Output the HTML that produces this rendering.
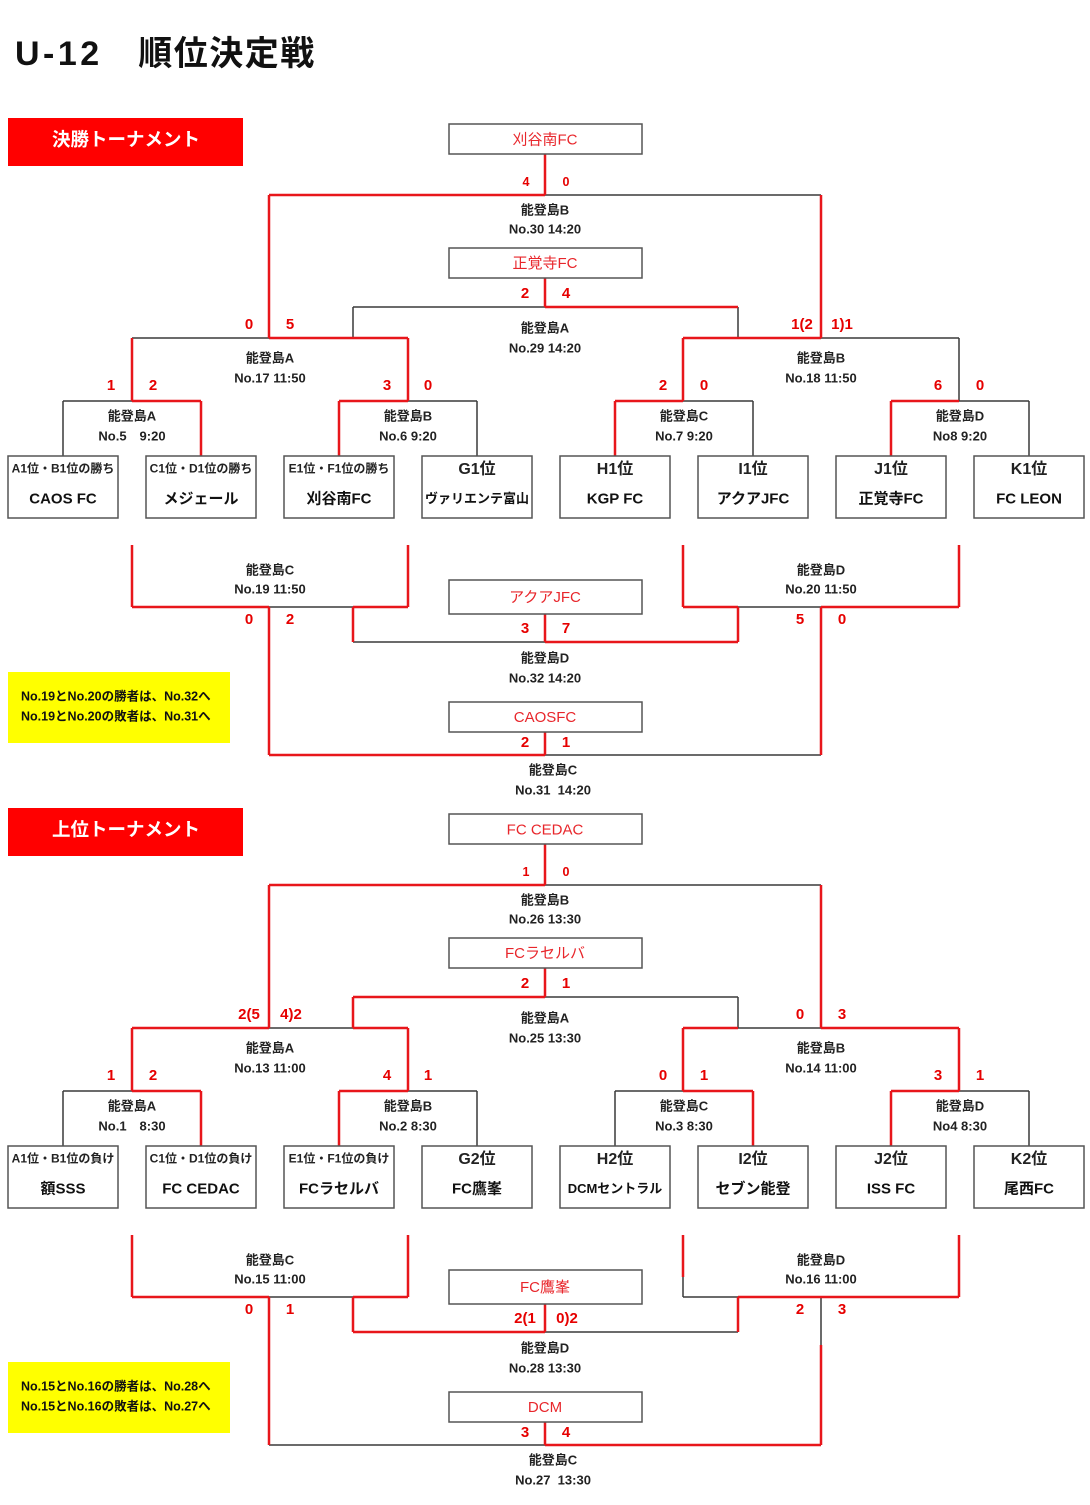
<!DOCTYPE html>
<html><head><meta charset="utf-8">
<style>
html,body{margin:0;padding:0;background:#fff;}
svg{display:block;}
text{font-family:"Liberation Sans","Noto Sans CJK JP",sans-serif;}
.k{stroke:#3a3a3a;stroke-width:1.5;fill:none;}
.r{stroke:#e8161b;stroke-width:2.5;fill:none;}
.bx{fill:#fff;stroke:#555;stroke-width:1.5;}
.lb{font-size:13px;font-weight:bold;fill:#222;text-anchor:middle;}
.sc{font-size:15px;font-weight:bold;fill:#e60000;text-anchor:middle;}
.ss{font-size:12.5px;font-weight:bold;fill:#e60000;text-anchor:middle;}
.wn{font-size:15px;fill:#e8262b;text-anchor:middle;}
.t1{font-size:12px;font-weight:bold;fill:#222;text-anchor:middle;}
.t1b{font-size:16px;font-weight:bold;fill:#222;text-anchor:middle;}
.t2{font-size:15px;font-weight:bold;fill:#111;text-anchor:middle;}
.t2s{font-size:13px;font-weight:bold;fill:#111;text-anchor:middle;}
.hd{font-size:18.5px;font-weight:bold;fill:#fff;text-anchor:middle;}
.ye{font-size:12.5px;font-weight:bold;fill:#111;}
</style></head>
<body>
<svg width="1090" height="1505" viewBox="0 0 1090 1505" xmlns="http://www.w3.org/2000/svg">
<text x="15" y="65" style="font-size:34px;font-weight:bold;fill:#111;"><tspan style="letter-spacing:3.5px">U-12</tspan><tspan style="letter-spacing:1.5px">　順位決定戦</tspan></text>

<!-- ============ SECTION 1 ============ -->
<g>
<rect x="8" y="118" width="235" height="48" fill="#ff0000"/>
<text class="hd" x="126" y="146">決勝トーナメント</text>

<path class="k" d="M545 195H821 M353 307H545 M353 307V338 M738 307V338 M132 338H269 M821 338H959 M959 338V401 M63 401H132 M408 401H477 M683 401H753 M959 401H1029 M63 401V456 M477 401V456 M753 401V456 M1029 401V456 M269 607H353 M738 607H821 M353 642H545 M545 755H821"/>
<path class="r" d="M545 154V195 M269 195H545 M269 195V338 M821 195V338 M545 278V307 M545 307H738 M269 338H408 M683 338H821 M132 338V401 M408 338V401 M683 338V401 M132 401H201 M339 401H408 M615 401H683 M891 401H959 M201 401V456 M339 401V456 M615 401V456 M891 401V456 M132 545V607 M408 545V607 M683 545V607 M959 545V607 M132 607H269 M353 607H408 M683 607H738 M821 607H959 M269 607V755 M821 607V755 M353 607V642 M738 607V642 M545 642H738 M545 614V642 M545 732V755 M269 755H545"/>

<rect class="bx" x="449" y="124" width="193" height="30"/>
<text class="wn" x="545" y="144.5">刈谷南FC</text>
<rect class="bx" x="449" y="248" width="193" height="30"/>
<text class="wn" x="545" y="268">正覚寺FC</text>
<rect class="bx" x="449" y="580" width="193" height="34"/>
<text class="wn" x="545" y="602">アクアJFC</text>
<rect class="bx" x="449" y="702" width="193" height="30"/>
<text class="wn" x="545" y="722">CAOSFC</text>

<text class="ss" x="526" y="186">4</text><text class="ss" x="566" y="186">0</text>
<text class="sc" x="525" y="298">2</text><text class="sc" x="566" y="298">4</text>
<text class="sc" x="249" y="329">0</text><text class="sc" x="290" y="329">5</text>
<text class="sc" x="802" y="329">1(2</text><text class="sc" x="842" y="329">1)1</text>
<text class="sc" x="111" y="390">1</text><text class="sc" x="153" y="390">2</text>
<text class="sc" x="387" y="390">3</text><text class="sc" x="428" y="390">0</text>
<text class="sc" x="663" y="390">2</text><text class="sc" x="704" y="390">0</text>
<text class="sc" x="938" y="390">6</text><text class="sc" x="980" y="390">0</text>
<text class="sc" x="249" y="624">0</text><text class="sc" x="290" y="624">2</text>
<text class="sc" x="800" y="624">5</text><text class="sc" x="842" y="624">0</text>
<text class="sc" x="525" y="633">3</text><text class="sc" x="566" y="633">7</text>
<text class="sc" x="525" y="747">2</text><text class="sc" x="566" y="747">1</text>

<text class="lb" x="545" y="214.5">能登島B</text><text class="lb" x="545" y="233.5">No.30 14:20</text>
<text class="lb" x="545" y="332.5">能登島A</text><text class="lb" x="545" y="352.5">No.29 14:20</text>
<text class="lb" x="270" y="362.5">能登島A</text><text class="lb" x="270" y="382.5">No.17 11:50</text>
<text class="lb" x="821" y="362.5">能登島B</text><text class="lb" x="821" y="382.5">No.18 11:50</text>
<text class="lb" x="132" y="420.5">能登島A</text><text class="lb" x="132" y="440.5">No.5　9:20</text>
<text class="lb" x="408" y="420.5">能登島B</text><text class="lb" x="408" y="440.5">No.6 9:20</text>
<text class="lb" x="684" y="420.5">能登島C</text><text class="lb" x="684" y="440.5">No.7 9:20</text>
<text class="lb" x="960" y="420.5">能登島D</text><text class="lb" x="960" y="440.5">No8 9:20</text>
<text class="lb" x="270" y="574.5">能登島C</text><text class="lb" x="270" y="593.5">No.19 11:50</text>
<text class="lb" x="821" y="574.5">能登島D</text><text class="lb" x="821" y="593.5">No.20 11:50</text>
<text class="lb" x="545" y="662.5">能登島D</text><text class="lb" x="545" y="682.5">No.32 14:20</text>
<text class="lb" x="553" y="774.5">能登島C</text><text class="lb" x="553" y="794.5">No.31&#160;&#160;14:20</text>

<rect class="bx" x="8" y="456" width="110" height="62"/>
<rect class="bx" x="146" y="456" width="110" height="62"/>
<rect class="bx" x="284" y="456" width="110" height="62"/>
<rect class="bx" x="422" y="456" width="110" height="62"/>
<rect class="bx" x="560" y="456" width="110" height="62"/>
<rect class="bx" x="698" y="456" width="110" height="62"/>
<rect class="bx" x="836" y="456" width="110" height="62"/>
<rect class="bx" x="974" y="456" width="110" height="62"/>
<text class="t1" x="63" y="472.5">A1位・B1位の勝ち</text><text class="t2" x="63" y="503.5">CAOS FC</text>
<text class="t1" x="201" y="472.5">C1位・D1位の勝ち</text><text class="t2" x="201" y="503.5">メジェール</text>
<text class="t1" x="339" y="472.5">E1位・F1位の勝ち</text><text class="t2" x="339" y="503.5">刈谷南FC</text>
<text class="t1b" x="477" y="474">G1位</text><text class="t2s" x="477" y="503">ヴァリエンテ富山</text>
<text class="t1b" x="615" y="474">H1位</text><text class="t2" x="615" y="503.5">KGP FC</text>
<text class="t1b" x="753" y="474">I1位</text><text class="t2" x="753" y="503.5">アクアJFC</text>
<text class="t1b" x="891" y="474">J1位</text><text class="t2" x="891" y="503.5">正覚寺FC</text>
<text class="t1b" x="1029" y="474">K1位</text><text class="t2" x="1029" y="503.5">FC LEON</text>

<rect x="8" y="672" width="222" height="71" fill="#ffff00"/>
<text class="ye" x="21" y="700.5">No.19とNo.20の勝者は、No.32へ</text>
<text class="ye" x="21" y="720.5">No.19とNo.20の敗者は、No.31へ</text>
</g>

<!-- ============ SECTION 2 ============ -->
<g transform="translate(0,690)">
<rect x="8" y="118" width="235" height="48" fill="#ff0000"/>
<text class="hd" x="126" y="146">上位トーナメント</text>

<path class="k" d="M545 195H821 M545 307H738 M738 307V338 M269 338H353 M738 338H821 M63 401H132 M408 401H477 M615 401H683 M959 401H1029 M63 401V456 M477 401V456 M615 401V456 M1029 401V456 M683 587V607 M269 607H353 M683 607H738 M821 607V655 M545 642H738 M269 755H545"/>
<path class="r" d="M545 154V195 M269 195H545 M269 195V338 M821 195V338 M545 278V307 M353 307H545 M353 307V338 M132 338H269 M353 338H408 M683 338H738 M821 338H959 M132 338V401 M408 338V401 M683 338V401 M959 338V401 M132 401H201 M339 401H408 M683 401H753 M891 401H959 M201 401V456 M339 401V456 M753 401V456 M891 401V456 M132 545V607 M408 545V607 M683 545V587 M959 545V607 M132 607H269 M353 607H408 M738 607H959 M269 607V755 M821 655V755 M353 607V642 M738 607V642 M353 642H545 M545 614V642 M545 732V755 M545 755H821"/>

<rect class="bx" x="449" y="124" width="193" height="30"/>
<text class="wn" x="545" y="144.5">FC CEDAC</text>
<rect class="bx" x="449" y="248" width="193" height="30"/>
<text class="wn" x="545" y="268">FCラセルバ</text>
<rect class="bx" x="449" y="580" width="193" height="34"/>
<text class="wn" x="545" y="602">FC鷹峯</text>
<rect class="bx" x="449" y="702" width="193" height="30"/>
<text class="wn" x="545" y="722">DCM</text>

<text class="ss" x="526" y="186">1</text><text class="ss" x="566" y="186">0</text>
<text class="sc" x="525" y="298">2</text><text class="sc" x="566" y="298">1</text>
<text class="sc" x="249" y="329">2(5</text><text class="sc" x="291" y="329">4)2</text>
<text class="sc" x="800" y="329">0</text><text class="sc" x="842" y="329">3</text>
<text class="sc" x="111" y="390">1</text><text class="sc" x="153" y="390">2</text>
<text class="sc" x="387" y="390">4</text><text class="sc" x="428" y="390">1</text>
<text class="sc" x="663" y="390">0</text><text class="sc" x="704" y="390">1</text>
<text class="sc" x="938" y="390">3</text><text class="sc" x="980" y="390">1</text>
<text class="sc" x="249" y="624">0</text><text class="sc" x="290" y="624">1</text>
<text class="sc" x="800" y="624">2</text><text class="sc" x="842" y="624">3</text>
<text class="sc" x="525" y="633">2(1</text><text class="sc" x="567" y="633">0)2</text>
<text class="sc" x="525" y="747">3</text><text class="sc" x="566" y="747">4</text>

<text class="lb" x="545" y="214.5">能登島B</text><text class="lb" x="545" y="233.5">No.26 13:30</text>
<text class="lb" x="545" y="332.5">能登島A</text><text class="lb" x="545" y="352.5">No.25 13:30</text>
<text class="lb" x="270" y="362.5">能登島A</text><text class="lb" x="270" y="382.5">No.13 11:00</text>
<text class="lb" x="821" y="362.5">能登島B</text><text class="lb" x="821" y="382.5">No.14 11:00</text>
<text class="lb" x="132" y="420.5">能登島A</text><text class="lb" x="132" y="440.5">No.1　8:30</text>
<text class="lb" x="408" y="420.5">能登島B</text><text class="lb" x="408" y="440.5">No.2 8:30</text>
<text class="lb" x="684" y="420.5">能登島C</text><text class="lb" x="684" y="440.5">No.3 8:30</text>
<text class="lb" x="960" y="420.5">能登島D</text><text class="lb" x="960" y="440.5">No4 8:30</text>
<text class="lb" x="270" y="574.5">能登島C</text><text class="lb" x="270" y="593.5">No.15 11:00</text>
<text class="lb" x="821" y="574.5">能登島D</text><text class="lb" x="821" y="593.5">No.16 11:00</text>
<text class="lb" x="545" y="662.5">能登島D</text><text class="lb" x="545" y="682.5">No.28 13:30</text>
<text class="lb" x="553" y="774.5">能登島C</text><text class="lb" x="553" y="794.5">No.27&#160;&#160;13:30</text>

<rect class="bx" x="8" y="456" width="110" height="62"/>
<rect class="bx" x="146" y="456" width="110" height="62"/>
<rect class="bx" x="284" y="456" width="110" height="62"/>
<rect class="bx" x="422" y="456" width="110" height="62"/>
<rect class="bx" x="560" y="456" width="110" height="62"/>
<rect class="bx" x="698" y="456" width="110" height="62"/>
<rect class="bx" x="836" y="456" width="110" height="62"/>
<rect class="bx" x="974" y="456" width="110" height="62"/>
<text class="t1" x="63" y="472.5">A1位・B1位の負け</text><text class="t2" x="63" y="503.5">額SSS</text>
<text class="t1" x="201" y="472.5">C1位・D1位の負け</text><text class="t2" x="201" y="503.5">FC CEDAC</text>
<text class="t1" x="339" y="472.5">E1位・F1位の負け</text><text class="t2" x="339" y="503.5">FCラセルバ</text>
<text class="t1b" x="477" y="474">G2位</text><text class="t2" x="477" y="503.5">FC鷹峯</text>
<text class="t1b" x="615" y="474">H2位</text><text class="t2s" x="615" y="503">DCMセントラル</text>
<text class="t1b" x="753" y="474">I2位</text><text class="t2" x="753" y="503.5">セブン能登</text>
<text class="t1b" x="891" y="474">J2位</text><text class="t2" x="891" y="503.5">ISS FC</text>
<text class="t1b" x="1029" y="474">K2位</text><text class="t2" x="1029" y="503.5">尾西FC</text>

<rect x="8" y="672" width="222" height="71" fill="#ffff00"/>
<text class="ye" x="21" y="700.5">No.15とNo.16の勝者は、No.28へ</text>
<text class="ye" x="21" y="720.5">No.15とNo.16の敗者は、No.27へ</text>
</g>
</svg>
</body></html>
